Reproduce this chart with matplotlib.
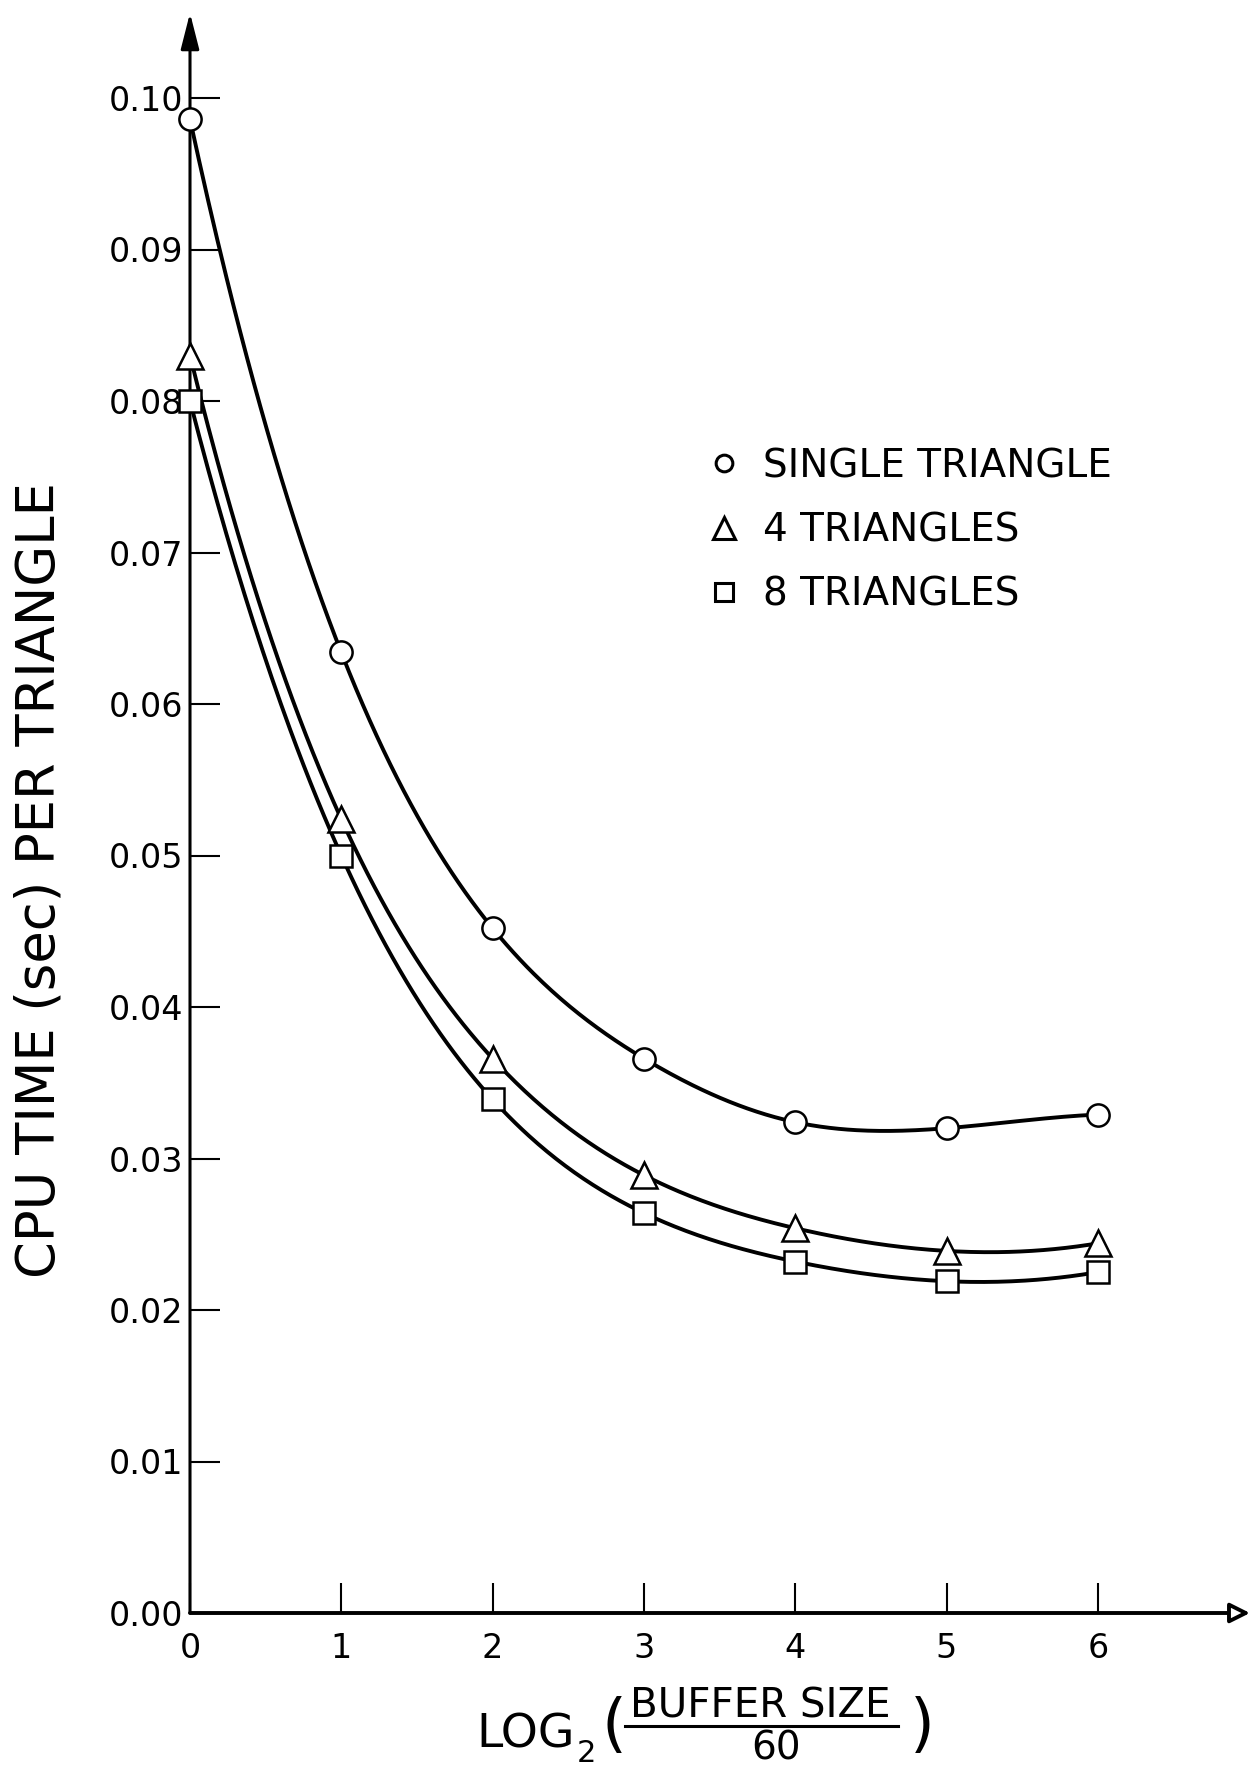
import numpy as np
from matplotlib import pyplot as plt
from matplotlib.lines import Line2D

# Values
buffer_log2 = [0, 1, 2, 3, 4, 5, 6]
single_triangle = [0.0986, 0.0634, 0.0452, 0.0366, 0.0324, 0.0320, 0.0329]
four_triangles = [0.0830, 0.0524, 0.0366, 0.0289, 0.0254, 0.0239, 0.0244]
eight_triangles = [0.0800, 0.0500, 0.0339, 0.0264, 0.0232, 0.0219, 0.0225]

y_ticks = [0.00, 0.01, 0.02, 0.03, 0.04, 0.05, 0.06, 0.07, 0.08, 0.09, 0.10]
x_ticks = [0, 1, 2, 3, 4, 5, 6]
series_labels = ["SINGLE TRIANGLE", "4 TRIANGLES", "8 TRIANGLES"]

W, H = 1254, 1766
X0_PX, Y0_PX = 190, 1613          # pixel of the origin
RIGHT_PX, TOP_PX = 1250, 13       # arrow tips
PX_PER_X = 151.3
PX_PER_Y = 15150.0


def smooth_curve(x, y, n=400):
    """Cubic spline (not-a-knot, unit spacing) so the curves look hand drawn smooth"""
    x = np.asarray(x, float)
    y = np.asarray(y, float)
    k = len(x)
    A = np.zeros((k, k))
    b = np.zeros(k)
    A[0, :3] = [1, -2, 1]
    A[-1, -3:] = [1, -2, 1]
    for i in range(1, k - 1):
        A[i, i - 1:i + 2] = [1, 4, 1]
        b[i] = 6 * (y[i + 1] - 2 * y[i] + y[i - 1])
    m = np.linalg.solve(A, b)

    xs = np.linspace(x[0], x[-1], n)
    idx = np.clip(np.floor(xs - x[0]).astype(int), 0, k - 2)
    s = xs - x[idx]
    ys = (m[idx] * (1 - s) ** 3 / 6 + m[idx + 1] * s ** 3 / 6
          + (y[idx] - m[idx] / 6) * (1 - s) + (y[idx + 1] - m[idx + 1] / 6) * s)
    return xs, ys


def fx(px):
    return px / W


def fy(px):
    return 1 - px / H


fig = plt.figure(figsize=(W / 100, H / 100), dpi=100)
fig.set_facecolor("white")
ax = fig.add_axes([fx(X0_PX), fy(Y0_PX), (RIGHT_PX - X0_PX) / W, (Y0_PX - TOP_PX) / H])
ax.set_xlim(0, (RIGHT_PX - X0_PX) / PX_PER_X)
ax.set_ylim(0, (Y0_PX - TOP_PX) / PX_PER_Y)

for side in ["top", "right", "bottom", "left"]:
    ax.spines[side].set_visible(False)

# Axes drawn as arrows
ax.annotate("", xy=(0, 1), xytext=(0, 0), xycoords="axes fraction",
            arrowprops=dict(arrowstyle="-|>,head_length=1.1,head_width=0.28", mutation_scale=20,
                            lw=2.2, color="black", shrinkA=0, shrinkB=0))
ax.annotate("", xy=(1, 0), xytext=(0, 0), xycoords="axes fraction",
            arrowprops=dict(arrowstyle="-|>,head_length=0.6,head_width=0.3", mutation_scale=20,
                            lw=2.8, ec="black", fc="white", shrinkA=0, shrinkB=0))

series = [
    (single_triangle, "o", 16, 12),
    (four_triangles, "^", 19, 16),
    (eight_triangles, "s", 16, 13),
]

handles = []
for values, marker, ms, legend_ms in series:
    xs, ys = smooth_curve(buffer_log2, values)
    ax.plot(xs, ys, color="black", lw=2.8, solid_capstyle="round", zorder=2, clip_on=False)
    ax.plot(buffer_log2, values, linestyle="none", marker=marker, ms=ms, mfc="white",
            mec="black", mew=1.8, zorder=3, clip_on=False)
    handles.append(Line2D([], [], linestyle="none", marker=marker, ms=legend_ms, mfc="white",
                          mec="black", mew=2.2))

ax.set_yticks(y_ticks, labels=[f"{v:.2f}" for v in y_ticks])
ax.set_xticks(x_ticks, labels=[str(v) for v in x_ticks])
ax.tick_params(axis="both", direction="in", length=21.6, width=1.5, colors="black", labelsize=24)
ax.tick_params(axis="x", pad=13.5)
ax.tick_params(axis="y", pad=5)

ax.legend(handles, series_labels, loc="upper left", bbox_to_anchor=(fx(705), fy(447)),
          bbox_transform=fig.transFigure, frameon=False, fontsize=28, handlelength=1.0,
          handletextpad=0.48, labelspacing=0.68, borderpad=0, borderaxespad=0)

fig.text(fx(40), fy(880), "CPU TIME (sec) PER TRIANGLE", rotation=90, ha="center",
         va="center", fontsize=38)

# x label: LOG2 ( BUFFER SIZE / 60 )
fig.text(fx(575), fy(1735), "LOG", ha="right", va="center", fontsize=34)
fig.text(fx(577), fy(1754), "2", ha="left", va="center", fontsize=22)
fig.text(fx(614), fy(1727), "(", ha="center", va="center", fontsize=46)
fig.text(fx(760), fy(1706), "BUFFER SIZE", ha="center", va="center", fontsize=29)
fig.add_artist(Line2D([fx(625), fx(898)], [fy(1726), fy(1726)], color="black", lw=2.2,
                      transform=fig.transFigure))
fig.text(fx(776), fy(1749), "60", ha="center", va="center", fontsize=28)
fig.text(fx(922), fy(1727), ")", ha="center", va="center", fontsize=46)

fig.savefig("out.png", dpi=100, facecolor="white")
